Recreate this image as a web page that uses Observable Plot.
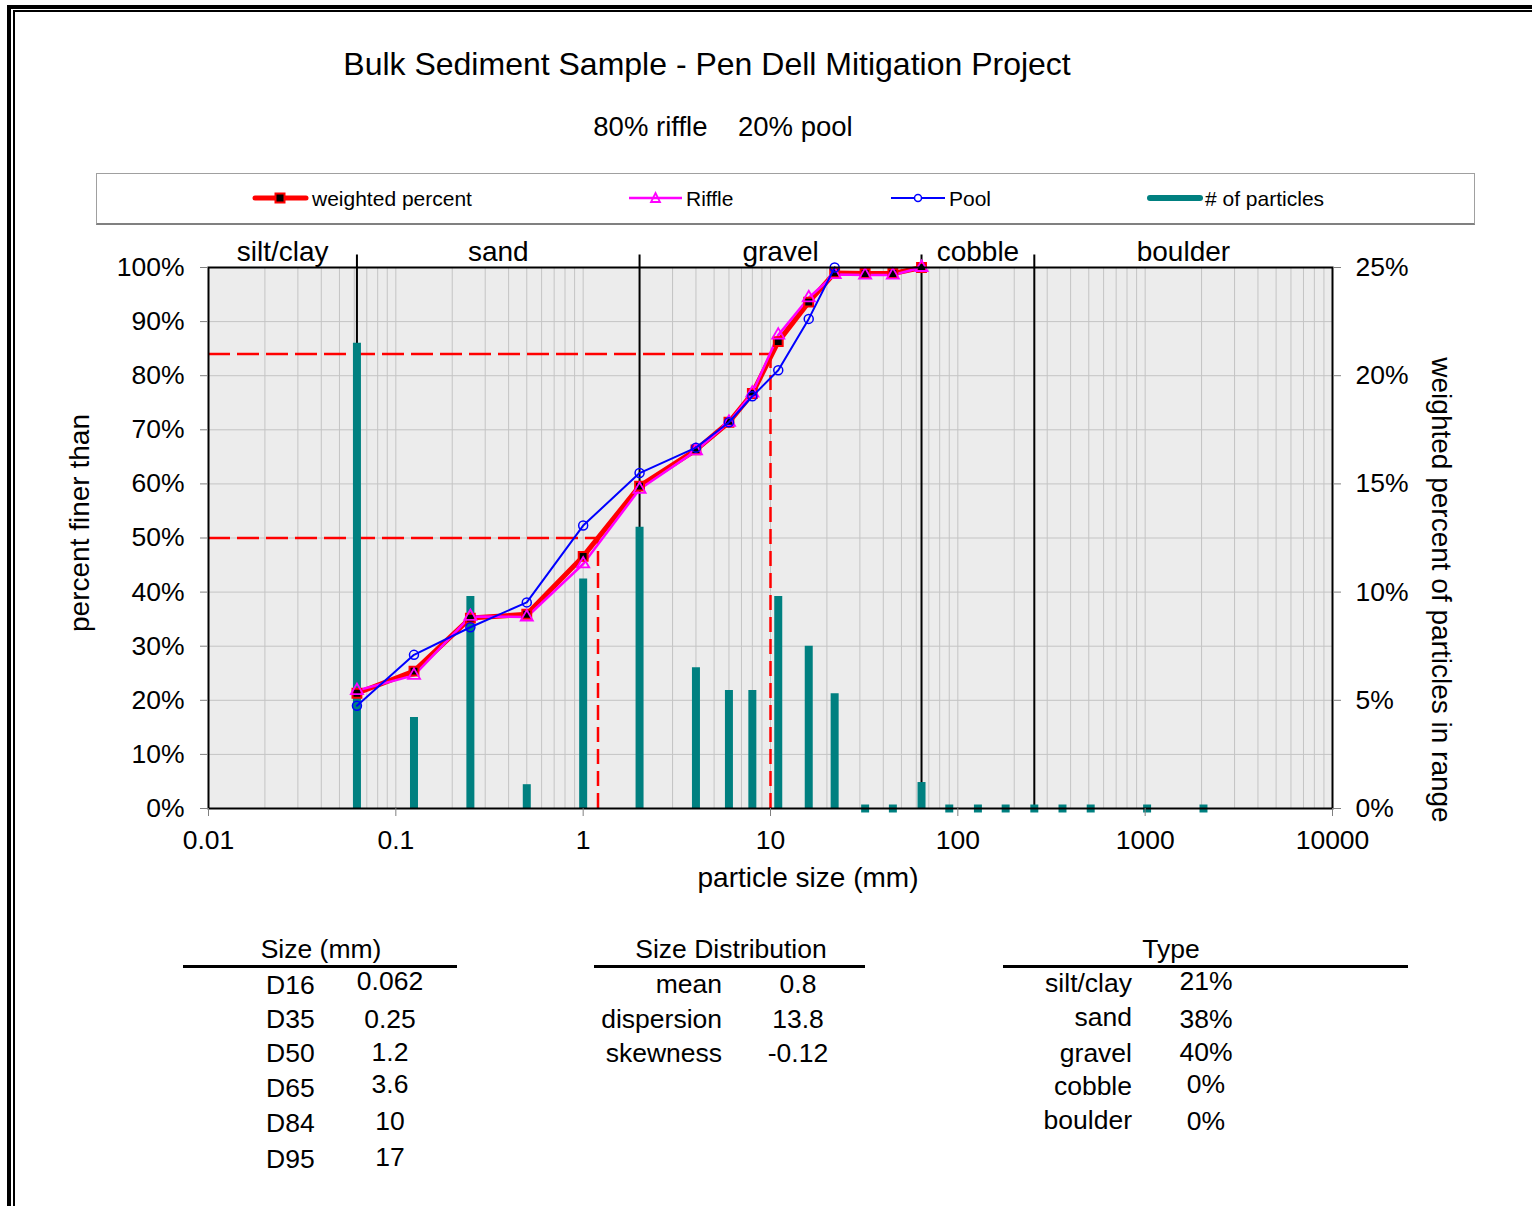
<!DOCTYPE html>
<html><head><meta charset="utf-8">
<script src="https://cdn.jsdelivr.net/npm/d3@7"></script>
<script src="https://cdn.jsdelivr.net/npm/@observablehq/plot@0.6"></script>
<style>
body{margin:0;background:#fff;font-family:"Liberation Sans",Arial,sans-serif;}
#page{position:relative;width:1532px;height:1206px;overflow:hidden;background:#fff;}
.t{position:absolute;white-space:pre;line-height:1;color:#000;}
.bar{position:absolute;background:#000;}
#chart{position:absolute;left:0;top:230px;}
</style></head><body><div id="page"><div id="chart"></div></div>
<script>
// ---------- data ----------
const sizes = [0.062,0.125,0.25,0.5,1,2,4,6,8,11,16,22,32,45,64,90,128,180,256,362,512,1024,2048];
const particlePct = [21.5,4.2,9.8,1.1,10.6,13.0,6.5,5.45,5.45,9.8,7.5,5.3,0,0,1.2,0,0,0,0,0,0,0,0];
const weightedPct = [21.3,25.4,35.2,35.9,46.6,59.6,66.3,71.4,76.7,86.3,93.6,99.0,98.9,98.9,100];
const rifflePct   = [21.8,24.6,35.5,35.4,45.2,59.0,66.1,71.4,76.8,87.5,94.4,98.7,98.6,98.6,100];
const poolPct     = [19.0,28.4,33.5,38.1,52.3,62.0,66.7,71.4,76.2,81.0,90.5,100];
const classNames  = ["silt/clay","sand","gravel","cobble","boulder"];
const classLimits = [0.01,0.062,2,64,256,10000];
const xTicks      = [0.01,0.1,1,10,100,1000,10000];
const xTickLabels = ["0.01","0.1","1","10","100","1000","10000"];
const leftTicks   = [0,10,20,30,40,50,60,70,80,90,100];
const rightTicks  = [0,5,10,15,20,25];
const dNames      = ["D16","D35","D50","D65","D84","D95"];
const dValues     = ["0.062","0.25","1.2","3.6","10","17"];
const distNames   = ["mean","dispersion","skewness"];
const distValues  = ["0.8","13.8","-0.12"];
const typeNames   = ["silt/clay","sand","gravel","cobble","boulder"];
const typeValues  = ["21%","38%","40%","0%","0%"];
const refPercents = [50,84]; // D50 & D84 reference lines

// ---------- derived tables ----------
const K = 100/25;
const bars = sizes.map((s,i)=>({size:s,pct:particlePct[i]}));
const wData = weightedPct.map((v,i)=>({size:sizes[i],v}));
const rData = rifflePct.map((v,i)=>({size:sizes[i],v}));
const pData = poolPct.map((v,i)=>({size:sizes[i],v}));
const classes = classNames.map((n,i)=>({name:n,mid:Math.sqrt(classLimits[i]*classLimits[i+1])}));
const boundaries = classLimits.slice(1,-1);
const refLines = refPercents.map(p=>({p,size:+dValues[dNames.indexOf("D"+p)]}));
const minorTicks = d3.scaleLog().domain([classLimits[0],classLimits[classLimits.length-1]]).ticks();

const FONT = '"Liberation Sans", Arial, sans-serif';
const chart = Plot.plot({
  width:1532, height:670, marginTop:37, marginBottom:92, marginLeft:208, marginRight:200,
  style:{fontFamily:FONT, fontSize:"26.5px", color:"#000", background:"transparent", overflow:"visible"},
  x:{type:"log", domain:[xTicks[0], xTicks[xTicks.length-1]]},
  y:{domain:[0,100]},
  marks:[
    Plot.frame({fill:"#ececec"}),
    Plot.gridX({ticks:minorTicks, stroke:"#c4c4c4", strokeOpacity:1, strokeWidth:1}),
    Plot.gridY({ticks:leftTicks, stroke:"#c4c4c4", strokeOpacity:1, strokeWidth:1}),
    Plot.ruleY(refLines, {y:"p", x1:xTicks[0], x2:"size", stroke:"#ff0000", strokeWidth:2.5, strokeDasharray:"22,7"}),
    Plot.ruleX(refLines, {x:"size", y1:0, y2:"p", stroke:"#ff0000", strokeWidth:2.5, strokeDasharray:"15,7"}),
    Plot.ruleX(boundaries, {x:d=>d, y1:0, y2:102.3, stroke:"#000", strokeWidth:2}),
    Plot.ruleX(bars.filter(d=>d.pct>0), {x:"size", y1:0, y2:d=>d.pct*K, stroke:"#008080", strokeWidth:8}),
    Plot.dot(bars.filter(d=>d.pct===0), {x:"size", y:0, symbol:"square", r:4.5, fill:"#008080"}),
    Plot.line(wData, {x:"size", y:"v", stroke:"#ff0000", strokeWidth:5}),
    Plot.line(rData, {x:"size", y:"v", stroke:"#ff00ff", strokeWidth:2.5}),
    Plot.dot(wData, {x:"size", y:"v", symbol:"square", r:5, fill:"#000", stroke:"#ff0000", strokeWidth:2}),
    Plot.dot(rData, {x:"size", y:"v", symbol:"triangle", r:4.5, fill:"none", stroke:"#ff00ff", strokeWidth:1.8}),
    Plot.line(pData, {x:"size", y:"v", stroke:"#0000ff", strokeWidth:2}),
    Plot.dot(pData, {x:"size", y:"v", r:4.5, fill:"none", stroke:"#0000ff", strokeWidth:1.5}),
    Plot.frame({stroke:"#000", strokeWidth:2}),
    Plot.axisY({ticks:leftTicks, tickFormat:d=>d+"%", tickSize:8, tickPadding:16, stroke:"#808080", fill:"#000", label:null}),
    Plot.axisY({anchor:"right", ticks:rightTicks.map(t=>t*K), tickFormat:d=>(d/K)+"%", tickSize:8, tickPadding:15, stroke:"#808080", fill:"#000", label:null}),
    Plot.axisX({ticks:xTicks, tickFormat:d=>xTickLabels[xTicks.indexOf(d)], tickSize:8, tickPadding:14, stroke:"#808080", fill:"#000", label:null}),
    Plot.text(classes, {x:"mid", y:100, text:"name", dy:-15, fontSize:28, lineAnchor:"middle", fill:"#000"})
  ]
});
document.getElementById("chart").appendChild(chart);

// ---------- HTML text / decorations ----------
const page = document.getElementById("page");
function txt(s, x, y, size, align="center"){
  const d = document.createElement("div");
  d.className = "t";
  d.textContent = s;
  d.style.fontSize = size+"px";
  d.style.left = x+"px"; d.style.top = y+"px";
  const tx = align==="center" ? "-50%" : align==="right" ? "-100%" : "0";
  d.style.transform = `translate(${tx},-50%)`;
  page.appendChild(d);
  return d;
}
function rotTxt(s, cx, cy, size, rot){
  const d = document.createElement("div");
  d.className = "t";
  d.textContent = s;
  d.style.fontSize = size+"px";
  d.style.left = cx+"px"; d.style.top = cy+"px";
  d.style.transform = `translate(-50%,-50%) rotate(${rot}deg)`;
  page.appendChild(d);
}
function box(x,y,w,h,style){
  const d = document.createElement("div");
  d.className = "bar";
  Object.assign(d.style,{left:x+"px",top:y+"px",width:w+"px",height:h+"px"}, style||{});
  page.appendChild(d);
  return d;
}
// outer double frame
box(7,5,1525,4); box(7,5,4,1201);
box(13,10,1519,2); box(13,10,2,1196);

txt("Bulk Sediment Sample - Pen Dell Mitigation Project", 707, 64, 32);
txt("80% riffle    20% pool", 723, 127, 27.5);

// legend
box(96,173,1377,49,{background:"#fff",border:"1px solid #a0a0a0",borderBottom:"2px solid #808080"});
const leg = document.createElementNS("http://www.w3.org/2000/svg","svg");
leg.setAttribute("width",1532); leg.setAttribute("height",60);
leg.style.position="absolute"; leg.style.left="0"; leg.style.top="170px";
leg.innerHTML = `
<line x1="255" y1="28" x2="306" y2="28" stroke="#ff0000" stroke-width="5" stroke-linecap="round"/>
<rect x="275.5" y="23.5" width="9" height="9" fill="#000" stroke="#ff0000" stroke-width="2"/>
<line x1="629" y1="28" x2="682" y2="28" stroke="#ff00ff" stroke-width="2.5"/>
<path d="M655.5,23 L660,32 L651,32 Z" fill="none" stroke="#ff00ff" stroke-width="1.8"/>
<line x1="891" y1="28" x2="945" y2="28" stroke="#0000ff" stroke-width="2"/>
<circle cx="918" cy="28" r="3.5" fill="#fff" stroke="#0000ff" stroke-width="1.5"/>
<line x1="1150" y1="28" x2="1200" y2="28" stroke="#008080" stroke-width="6" stroke-linecap="round"/>`;
page.appendChild(leg);
txt("weighted percent", 312, 198, 21, "left");
txt("Riffle", 686, 198, 21, "left");
txt("Pool", 949, 198, 21, "left");
txt("# of particles", 1205, 198, 21, "left");

// axis titles
rotTxt("percent finer than", 80, 523, 28, -90);
txt("particle size (mm)", 808, 878, 28);
rotTxt("weighted percent of particles in range", 1441, 590, 28, 90);

// tables
const TS = 26.5;
txt("Size (mm)", 321, 949, TS); box(183,965,274,2.5);
const t1LabY = [985,1019,1053,1088,1123,1159], t1ValY = [981,1019,1052,1084,1121,1157];
dNames.forEach((n,i)=>{ txt(n, 266, t1LabY[i], TS, "left"); txt(dValues[i], 390, t1ValY[i], TS); });

txt("Size Distribution", 731, 949, TS); box(594,965,271,2.5);
const t2Y = [984,1019,1053];
distNames.forEach((n,i)=>{ txt(n, 722, t2Y[i], TS, "right"); txt(distValues[i], 798, t2Y[i], TS); });

txt("Type", 1171, 949, TS); box(1003,965,405,2.5);
const t3LabY = [983,1017,1053,1086,1120], t3ValY = [981,1019,1052,1084,1121];
typeNames.forEach((n,i)=>{ txt(n, 1132, t3LabY[i], TS, "right"); txt(typeValues[i], 1206, t3ValY[i], TS); });
</script></body></html>
